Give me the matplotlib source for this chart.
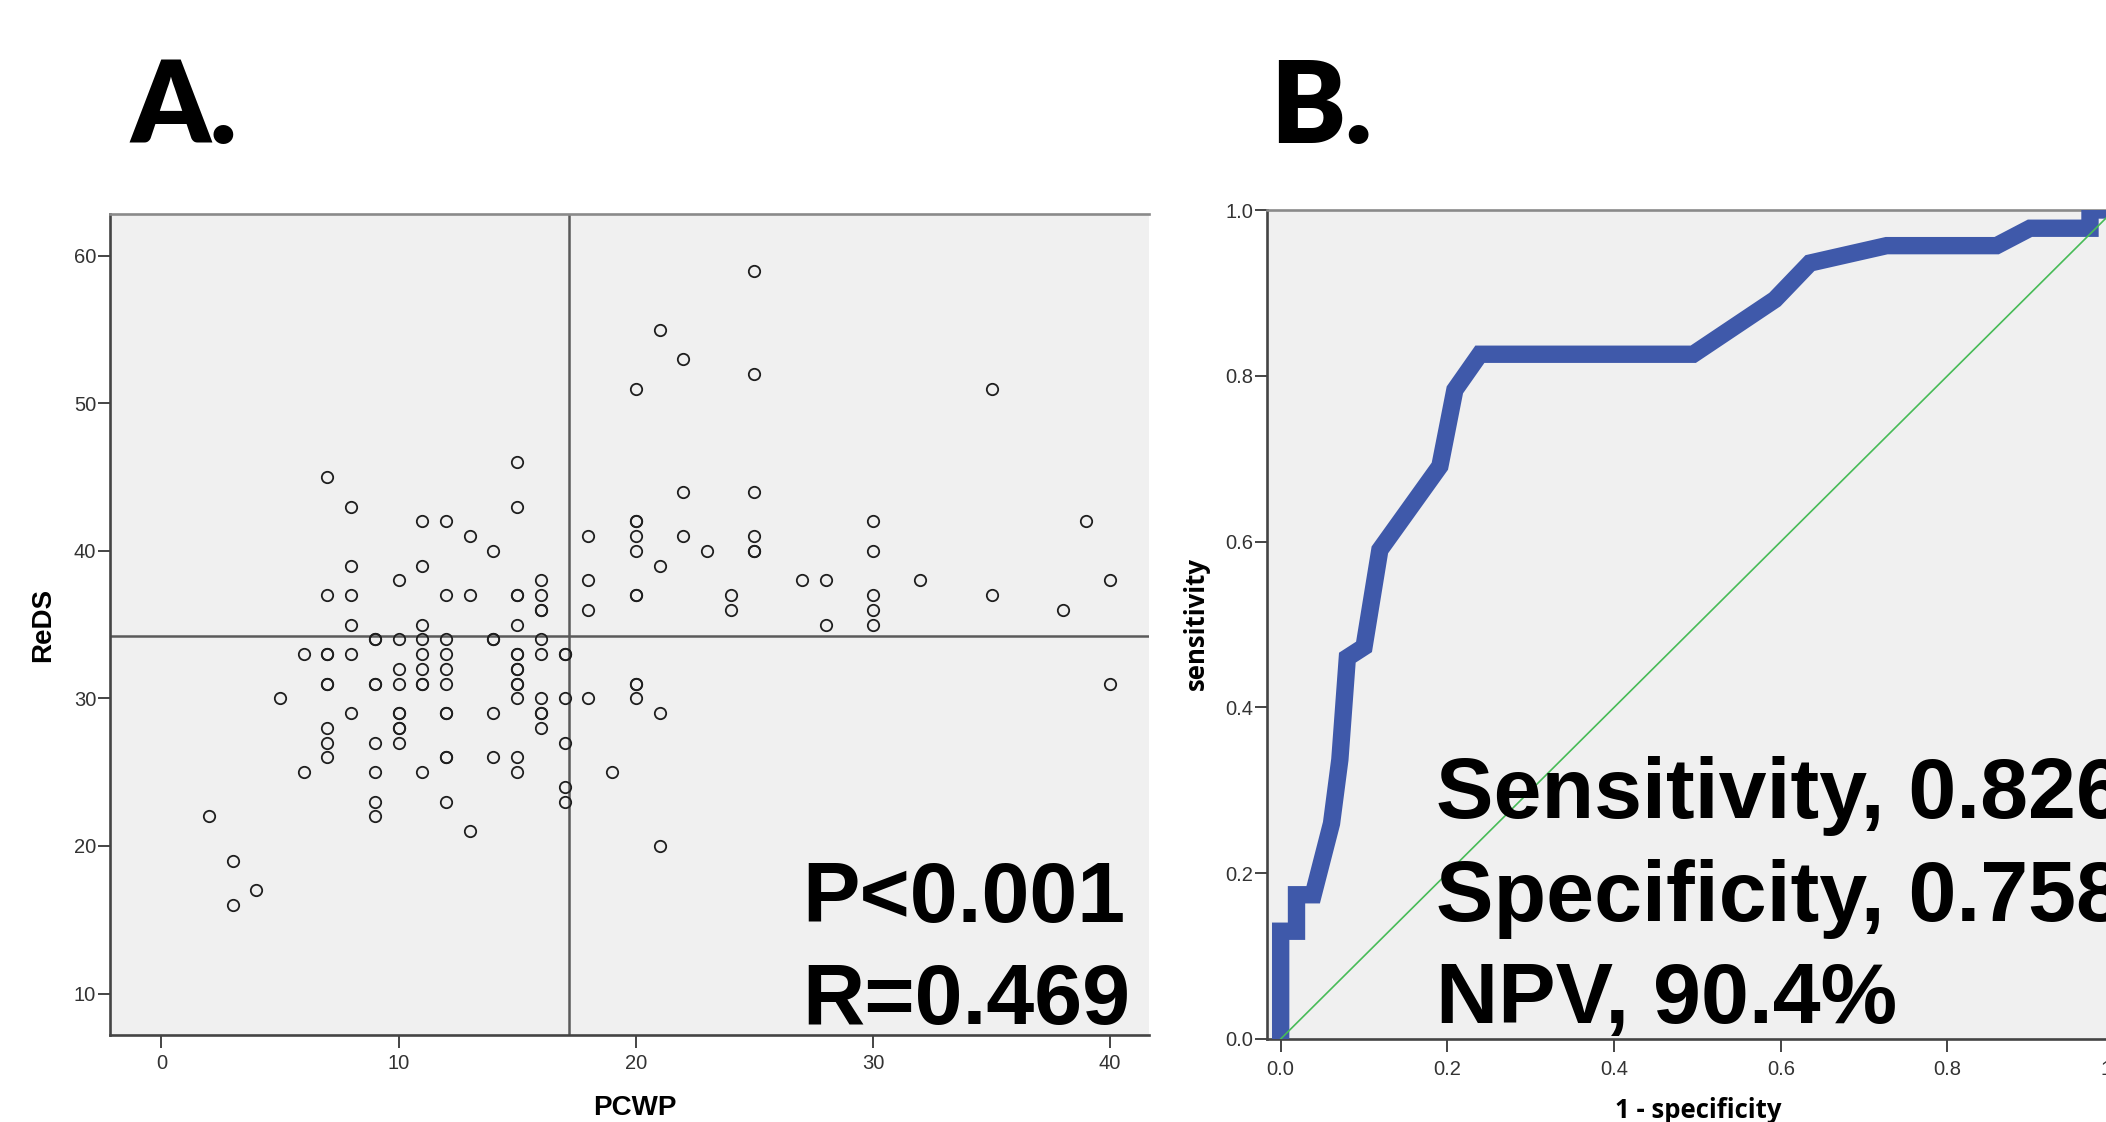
import matplotlib
matplotlib.use("Agg")
import matplotlib.pyplot as plt

plt.rcParams['font.family'] = ['Liberation Sans', 'DejaVu Sans']

# ---- panel A data: PCWP vs ReDS (one entry per patient) ----
pcwp = [2, 3, 3, 4, 5, 6, 6,
        7, 7, 7, 7, 7, 7, 7, 7, 7,
        8, 8, 8, 8, 8, 8,
        9, 9, 9, 9, 9, 9, 9, 9,
        10, 10, 10, 10, 10, 10, 10, 10, 10,
        11, 11, 11, 11, 11, 11, 11, 11, 11,
        12, 12, 12, 12, 12, 12, 12, 12, 12, 12, 12,
        13, 13, 13,
        14, 14, 14, 14, 14,
        15, 15, 15, 15, 15, 15, 15, 15, 15, 15, 15, 15, 15, 15,
        16, 16, 16, 16, 16, 16, 16, 16, 16, 16,
        17, 17, 17, 17, 17, 17,
        18, 18, 18, 18,
        19,
        20, 20, 20, 20, 20, 20, 20, 20, 20, 20,
        21, 21, 21, 21,
        22, 22, 22,
        23,
        24, 24,
        25, 25, 25, 25, 25, 25,
        27,
        28, 28,
        30, 30, 30, 30, 30,
        32,
        35, 35,
        38, 39, 40, 40]
reds = [22, 19, 16, 17, 30, 33, 25,
        45, 37, 33, 33, 31, 31, 28, 27, 26,
        43, 39, 37, 35, 33, 29,
        34, 34, 31, 31, 27, 25, 23, 22,
        38, 34, 32, 31, 29, 29, 28, 28, 27,
        42, 39, 35, 34, 33, 32, 31, 31, 25,
        42, 37, 34, 33, 32, 31, 29, 29, 26, 26, 23,
        41, 37, 21,
        40, 34, 34, 29, 26,
        46, 43, 37, 37, 35, 33, 33, 32, 32, 31, 31, 30, 26, 25,
        38, 37, 36, 36, 34, 33, 30, 29, 29, 28,
        33, 33, 30, 27, 24, 23,
        41, 38, 36, 30,
        25,
        51, 42, 42, 41, 40, 37, 37, 31, 31, 30,
        55, 39, 29, 20,
        53, 44, 41,
        40,
        37, 36,
        59, 52, 44, 41, 40, 40,
        38,
        38, 35,
        42, 40, 37, 36, 35,
        38,
        51, 37,
        36, 42, 38, 31]
pcwp_cut = 17.2
reds_cut = 34.2
a_xticks = [0, 10, 20, 30, 40]
a_yticks = [10, 20, 30, 40, 50, 60]
a_stats = ["P<0.001", "R=0.469"]

# ---- panel B data: ROC curve ----
roc_fpr = [0, 0, 0.019, 0.019, 0.039, 0.061, 0.071, 0.080, 0.100, 0.119,
           0.191, 0.209, 0.239, 0.495, 0.593, 0.635, 0.727, 0.859, 0.899,
           0.971, 0.971, 1.0]
roc_tpr = [0, 0.130, 0.130, 0.174, 0.174, 0.260, 0.337, 0.460, 0.473, 0.590,
           0.691, 0.783, 0.826, 0.826, 0.892, 0.936, 0.957, 0.957, 0.978,
           0.978, 1.0, 1.0]
b_ticks = [0.0, 0.2, 0.4, 0.6, 0.8, 1.0]
b_stats = ["Sensitivity, 0.826", "Specificity, 0.758", "NPV, 90.4%"]

W, H = 2106, 1122
fig = plt.figure(figsize=(W / 100, H / 100), dpi=100)

bg = '#f0f0f0'
dark = '#444444'
tickcol = '#333333'


def px(x0, y0, x1, y1):
    # pixel box (left, top, right, bottom) -> figure fraction rect
    return [x0 / W, 1 - y1 / H, (x1 - x0) / W, (y1 - y0) / H]


def style_axes(ax, xpad, ypad):
    ax.set_facecolor(bg)
    for s in ['left', 'bottom']:
        ax.spines[s].set_color(dark)
        ax.spines[s].set_linewidth(1.9)
    ax.spines['top'].set_color('#8a8a8a')
    ax.spines['top'].set_linewidth(1.9)
    ax.spines['right'].set_visible(False)
    ax.tick_params(direction='out', length=9, width=1.4, color=dark,
                   labelsize=14.5, labelcolor=tickcol)
    ax.tick_params(axis='x', pad=xpad)
    ax.tick_params(axis='y', pad=ypad)


############################
# PANEL A                  #
############################
axA = fig.add_axes(px(110, 214, 1149, 1035))
style_axes(axA, 5, 1)
axA.plot(pcwp, reds, 'o', ms=8.2, mfc='none', mec='#1e1e1e', mew=1.3, zorder=3)
axA.axvline(pcwp_cut, color='#5a5a5a', lw=1.8, zorder=2)
axA.axhline(reds_cut, color='#5a5a5a', lw=1.8, zorder=2)
axA.set_xlim(-2.17, 41.64)
axA.set_ylim(7.19, 62.83)
axA.set_xticks(a_xticks)
axA.set_yticks(a_yticks)

fig.text(43 / W, 1 - 625 / H, "ReDS", rotation=90, ha='center', va='center',
         fontsize=20, fontweight='bold')
fig.text(635 / W, 1 - 1115 / H, "PCWP", ha='center', va='baseline',
         fontsize=20, fontweight='bold')

for i, s in enumerate(a_stats):
    fig.text(802 / W, 1 - (921.7 + 102.3 * i) / H, s, ha='left', va='baseline',
             fontsize=62, fontweight='bold', zorder=5)

############################
# PANEL B                  #
############################
axB = fig.add_axes(px(1267, 210, 2127, 1039))
style_axes(axB, 6, 1)
axB.plot(roc_fpr, roc_tpr, color='#3f59aa', lw=12.5, solid_joinstyle='miter',
         solid_capstyle='butt', zorder=3)
axB.plot([0, 1], [0, 1], color='#47bb57', lw=1.2, zorder=4)
axB.set_xlim(-0.0164, 1.0154)
axB.set_ylim(0, 1)
axB.set_xticks(b_ticks)
axB.set_yticks(b_ticks)
axB.set_xticklabels(["%.1f" % t for t in b_ticks])
axB.set_yticklabels(["%.1f" % t for t in b_ticks])

fig.text(1196 / W, 1 - 624 / H, "sensitivity", rotation=90, ha='center',
         va='center', fontsize=18.5, fontweight='bold', family='Open Sans')
fig.text(1698 / W, 1 - 1118 / H, "1 - specificity", ha='center',
         va='baseline', fontsize=18.5, fontweight='bold', family='Open Sans')

for i, s in enumerate(b_stats):
    fig.text(1436 / W, 1 - (818.3 + 102.3 * i) / H, s, ha='left',
             va='baseline', fontsize=62, fontweight='bold', zorder=5)

# panel letters
fig.text(130 / W, 1 - 143.3 / H, "A.", ha='left', va='baseline',
         fontsize=81, fontweight='heavy', family='Lato')
fig.text(1270 / W, 1 - 143.3 / H, "B.", ha='left', va='baseline',
         fontsize=81, fontweight='heavy', family='Lato')

fig.savefig("out.png", dpi=100)
